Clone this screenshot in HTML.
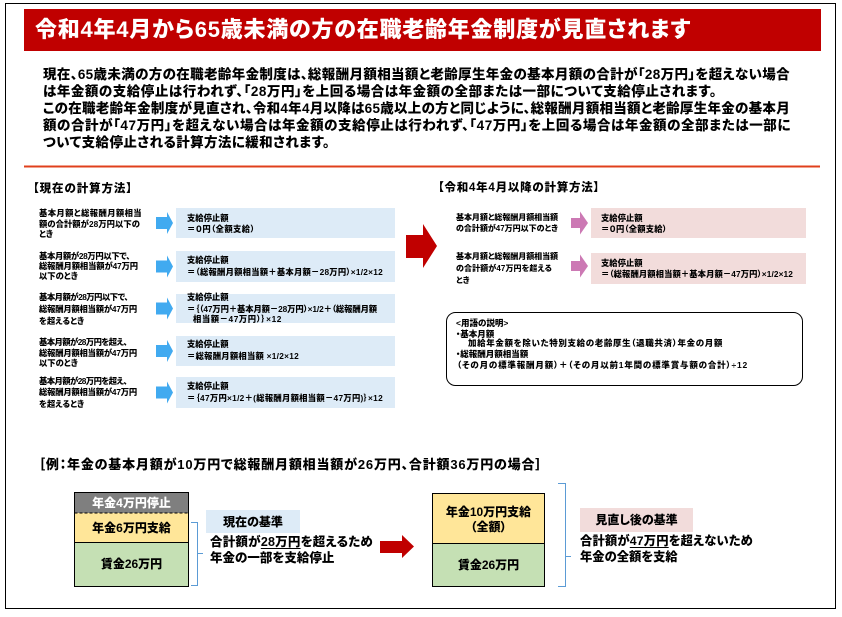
<!DOCTYPE html>
<html><head><meta charset="utf-8">
<style>
html,body{margin:0;padding:0;background:#fff;}
body{width:842px;height:617px;position:relative;overflow:hidden;font-family:"Liberation Sans","Noto Sans CJK JP",sans-serif;font-feature-settings:"palt";}
svg{position:absolute;left:0;top:0;}
.t{position:absolute;white-space:nowrap;line-height:1;font-weight:900;color:#000;}
.c{position:absolute;white-space:nowrap;line-height:1;font-weight:900;text-align:center;}
.u{text-decoration:underline;text-decoration-thickness:1px;text-underline-offset:2px;}
</style></head>
<body>
<svg width="842" height="617" viewBox="0 0 842 617">
  <rect x="5.5" y="3.5" width="830" height="605" fill="none" stroke="#000" stroke-width="1"/>
  <rect x="24" y="9" width="797" height="42" fill="#c00000"/>
  <rect x="24" y="165.5" width="796" height="2" fill="#e0401c"/>
  <rect x="176" y="208" width="219" height="30" fill="#ddebf7"/>
  <rect x="176" y="251" width="219" height="31" fill="#ddebf7"/>
  <rect x="176" y="294" width="219" height="29" fill="#ddebf7"/>
  <rect x="176" y="336" width="219" height="30" fill="#ddebf7"/>
  <rect x="176" y="377" width="219" height="31" fill="#ddebf7"/>
  <g fill="#41aaf0">
    <polygon points="156,217 167,217 167,212 173,223 167,234 167,229 156,229"/>
    <polygon points="156,260.5 167,260.5 167,255.5 173,266.5 167,277.5 167,272.5 156,272.5"/>
    <polygon points="156,302.5 167,302.5 167,297.5 173,308.5 167,319.5 167,314.5 156,314.5"/>
    <polygon points="156,345 167,345 167,340 173,351 167,362 167,357 156,357"/>
    <polygon points="156,386.5 167,386.5 167,381.5 173,392.5 167,403.5 167,398.5 156,398.5"/>
  </g>
  <polygon points="406,235 423,235 423,224 437,246 423,268 423,258 406,258" fill="#c00000"/>
  <rect x="591" y="208" width="215" height="30" fill="#f2dcdb"/>
  <rect x="591" y="253" width="215" height="31" fill="#f2dcdb"/>
  <g fill="#cc79b4">
    <polygon points="571,218 580,218 580,211.5 588,223 580,234.5 580,228 571,228"/>
    <polygon points="571,261 580,261 580,254.5 588,266 580,277.5 580,271 571,271"/>
  </g>
  <rect x="446.5" y="312.5" width="356" height="73" rx="9" ry="9" fill="#fff" stroke="#000" stroke-width="1"/>
  <rect x="74" y="492" width="115" height="21" fill="#7f7f7f"/>
  <rect x="74" y="513" width="115" height="29" fill="#ffe699"/>
  <rect x="74" y="542" width="115" height="45" fill="#c5e0b4"/>
  <line x1="74.5" y1="513" x2="188.5" y2="513" stroke="#000" stroke-width="1" stroke-dasharray="3,2"/>
  <line x1="74.5" y1="542.5" x2="188.5" y2="542.5" stroke="#000" stroke-width="1"/>
  <rect x="74.5" y="492.5" width="114" height="94" fill="none" stroke="#000" stroke-width="1"/>
  <rect x="432" y="493" width="113" height="50" fill="#ffe699"/>
  <rect x="432" y="543" width="113" height="44" fill="#c5e0b4"/>
  <line x1="432.5" y1="543.5" x2="544.5" y2="543.5" stroke="#000" stroke-width="1"/>
  <rect x="432.5" y="493.5" width="112" height="93" fill="none" stroke="#000" stroke-width="1"/>
  <g fill="none" stroke="#5b9bd5" stroke-width="1">
    <polyline points="191,522.5 197.5,522.5 197.5,585.5 191,585.5"/>
    <line x1="197.5" y1="553.5" x2="203" y2="553.5"/>
    <polyline points="558,483.5 565.5,483.5 565.5,586.5 558,586.5"/>
    <line x1="565.5" y1="556.5" x2="571" y2="556.5"/>
  </g>
  <rect x="206" y="510" width="94" height="23" fill="#ddebf7"/>
  <rect x="580" y="508" width="113" height="24" fill="#f2dcdb"/>
  <polygon points="380,541 402,541 402,535 414,546.5 402,558 402,553 380,553" fill="#c00000"/>
</svg>

<div class="t fit" style="left:35px;top:19px;font-size:22px;color:#fff;width:656px;">令和4年4月から65歳未満の方の在職老齢年金制度が見直されます</div>

<div class="t fit" style="left:43px;top:67.75px;font-size:13.5px;width:747px;">現在、65歳未満の方の在職老齢年金制度は、総報酬月額相当額と老齢厚生年金の基本月額の合計が「28万円」を超えない場合</div>
<div class="t fit" style="left:43px;top:84.75px;font-size:13.5px;width:674px;">は年金額の支給停止は行われず、「28万円」を上回る場合は年金額の全部または一部について支給停止されます。</div>
<div class="t fit" style="left:43px;top:101.75px;font-size:13.5px;width:747px;">この在職老齢年金制度が見直され、令和4年4月以降は65歳以上の方と同じように、総報酬月額相当額と老齢厚生年金の基本月</div>
<div class="t fit" style="left:43px;top:118.75px;font-size:13.5px;width:748px;">額の合計が「47万円」を超えない場合は年金額の支給停止は行われず、「47万円」を上回る場合は年金額の全部または一部に</div>
<div class="t fit" style="left:43px;top:136.25px;font-size:13.5px;width:287px;">ついて支給停止される計算方法に緩和されます。</div>

<div class="t fit" style="left:33px;top:184.25px;font-size:11.5px;width:100px;">【現在の計算方法】</div>
<div class="t fit" style="left:438px;top:183.25px;font-size:11.5px;width:162px;">【令和4年4月以降の計算方法】</div>

<div class="t fit" style="left:39px;top:208.6px;font-size:8.3px;width:103px;">基本月額と総報酬月額相当</div>
<div class="t fit" style="left:39px;top:220.2px;font-size:8.3px;width:101px;">額の合計額が28万円以下の</div>
<div class="t" style="left:39px;top:230.2px;font-size:8.3px;">とき</div>

<div class="t fit" style="left:39px;top:251.9px;font-size:8.3px;width:91px;">基本月額が28万円以下で、</div>
<div class="t fit" style="left:39px;top:261.6px;font-size:8.3px;width:99px;">総報酬月額相当額が47万円</div>
<div class="t" style="left:39px;top:271.6px;font-size:8.3px;">以下のとき</div>

<div class="t fit" style="left:39px;top:293.2px;font-size:8.3px;width:89px;">基本月額が28万円以下で、</div>
<div class="t fit" style="left:39px;top:304.9px;font-size:8.3px;width:98px;">総報酬月額相当額が47万円</div>
<div class="t" style="left:39px;top:316.6px;font-size:8.3px;">を超えるとき</div>

<div class="t fit" style="left:39px;top:337.6px;font-size:8.3px;width:88px;">基本月額が28万円を超え、</div>
<div class="t fit" style="left:39px;top:348.6px;font-size:8.3px;width:98px;">総報酬月額相当額が47万円</div>
<div class="t" style="left:39px;top:358.6px;font-size:8.3px;">以下のとき</div>

<div class="t fit" style="left:39px;top:376.9px;font-size:8.3px;width:88px;">基本月額が28万円を超え、</div>
<div class="t fit" style="left:39px;top:388.4px;font-size:8.3px;width:98px;">総報酬月額相当額が47万円</div>
<div class="t" style="left:39px;top:400.4px;font-size:8.3px;">を超えるとき</div>

<div class="t" style="left:187px;top:214.2px;font-size:8.3px;">支給停止額</div>
<div class="t fit" style="left:187px;top:224.9px;font-size:8.3px;width:68px;">＝０円（全額支給）</div>

<div class="t" style="left:187px;top:255.9px;font-size:8.3px;">支給停止額</div>
<div class="t fit" style="left:187px;top:267.6px;font-size:8.3px;width:196px;">＝（総報酬月額相当額＋基本月額－28万円）×1/2×12</div>

<div class="t" style="left:187px;top:293.2px;font-size:8.3px;">支給停止額</div>
<div class="t fit" style="left:187px;top:304.9px;font-size:8.3px;width:190px;">＝｛（47万円＋基本月額－28万円）×1/2＋（総報酬月額</div>
<div class="t fit" style="left:193px;top:314.9px;font-size:8.3px;width:89px;">相当額－47万円）｝×12</div>

<div class="t" style="left:187px;top:339.9px;font-size:8.3px;">支給停止額</div>
<div class="t fit" style="left:187px;top:351.9px;font-size:8.3px;width:112px;">＝総報酬月額相当額 ×1/2×12</div>

<div class="t" style="left:187px;top:382.4px;font-size:8.3px;">支給停止額</div>
<div class="t fit" style="left:187px;top:394.4px;font-size:8.3px;width:196px;">＝｛47万円×1/2＋(総報酬月額相当額－47万円)｝×12</div>

<div class="t fit" style="left:456px;top:214.3px;font-size:8px;width:102px;">基本月額と総報酬月額相当額</div>
<div class="t fit" style="left:456px;top:225px;font-size:8px;width:102px;">の合計額が47万円以下のとき</div>

<div class="t fit" style="left:456px;top:252.7px;font-size:8px;width:102px;">基本月額と総報酬月額相当額</div>
<div class="t fit" style="left:456px;top:265.3px;font-size:8px;width:96px;">の合計額が47万円を超える</div>
<div class="t" style="left:456px;top:277px;font-size:8px;">とき</div>

<div class="t" style="left:601px;top:214.3px;font-size:8.3px;">支給停止額</div>
<div class="t fit" style="left:601px;top:225px;font-size:8.3px;width:66px;">＝０円（全額支給）</div>
<div class="t" style="left:601px;top:258.6px;font-size:8.3px;">支給停止額</div>
<div class="t fit" style="left:601px;top:269.9px;font-size:8.3px;width:192px;">＝（総報酬月額相当額＋基本月額－47万円）×1/2×12</div>

<div class="t" style="left:456px;top:318.7px;font-size:8.5px;">&lt;用語の説明&gt;</div>
<div class="t" style="left:456px;top:329.5px;font-size:8.5px;">・基本月額</div>
<div class="t fit" style="left:468px;top:339px;font-size:8.5px;width:255px;">加給年金額を除いた特別支給の老齢厚生（退職共済）年金の月額</div>
<div class="t" style="left:456px;top:350px;font-size:8.5px;">・総報酬月額相当額</div>
<div class="t fit" style="left:457px;top:360.7px;font-size:8.5px;width:291px;">（その月の標準報酬月額）＋（その月以前1年間の標準賞与額の合計）÷12</div>

<div class="t fit" style="left:38.6px;top:457.5px;font-size:13px;width:504px;">［例：年金の基本月額が10万円で総報酬月額相当額が26万円、合計額36万円の場合］</div>

<div class="c" style="left:74px;width:115px;top:497px;font-size:12px;color:#fff;">年金4万円停止</div>
<div class="c" style="left:74px;width:115px;top:521.5px;font-size:12px;">年金6万円支給</div>
<div class="c" style="left:74px;width:115px;top:558px;font-size:12px;">賃金26万円</div>

<div class="c" style="left:206px;width:94px;top:515.5px;font-size:12px;">現在の基準</div>
<div class="t fit" style="left:210px;top:536.3px;font-size:12.5px;width:163px;">合計額が<span class="u">28万円</span>を超えるため</div>
<div class="t" style="left:210px;top:551.8px;font-size:12.5px;">年金の一部を支給停止</div>

<div class="c" style="left:432px;width:113px;top:506px;font-size:12px;">年金10万円支給</div>
<div class="c" style="left:432px;width:113px;top:521px;font-size:12px;">（全額）</div>
<div class="c" style="left:432px;width:113px;top:559px;font-size:12px;">賃金26万円</div>

<div class="c" style="left:580px;width:113px;top:514px;font-size:12px;">見直し後の基準</div>
<div class="t fit" style="left:580px;top:534.8px;font-size:12.3px;width:173px;">合計額が<span class="u">47万円</span>を超えないため</div>
<div class="t" style="left:580px;top:550.8px;font-size:12.3px;">年金の全額を支給</div>

<script>
(function(){
  var els=document.querySelectorAll('.fit');
  for(var i=0;i<els.length;i++){
    var el=els[i];
    var target=parseFloat(el.style.width);
    el.style.width='auto';
    var w=el.getBoundingClientRect().width;
    var n=Array.from(el.textContent).length;
    if(n>0){el.style.letterSpacing=((target-w)/n)+'px';}
  }
})();
</script>
</body></html>
